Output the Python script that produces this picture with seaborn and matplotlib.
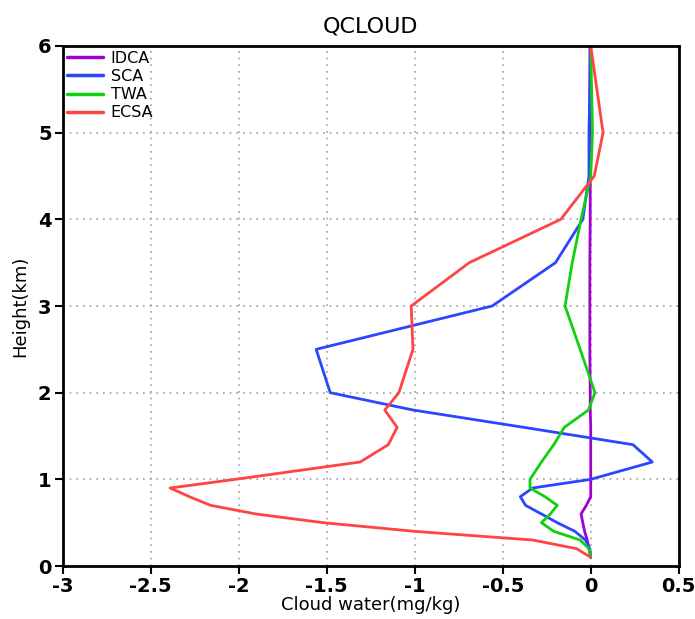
import numpy as np
import pandas as pd
import matplotlib
matplotlib.use("Agg")
import matplotlib.pyplot as plt
import seaborn as sns

# Model levels (km)
heights = [0.1, 0.2, 0.3, 0.4, 0.5, 0.6, 0.7, 0.8, 0.9, 1.0, 1.2, 1.4,
           1.6, 1.8, 2.0, 2.5, 3.0, 3.5, 4.0, 4.5, 5.0, 6.0]

# Cloud water difference profiles (mg/kg) for each region
idca = [0.0, -0.01, -0.02, -0.035, -0.045, -0.055, -0.025, 0.0, 0.0, 0.0,
        0.0, 0.0, 0.0, -0.003, -0.003, -0.005, -0.005, -0.005, -0.003,
        -0.003, -0.005, -0.005]
sca = [0.0, -0.005, -0.03, -0.09, -0.19, -0.28, -0.37, -0.40, -0.33, 0.0,
       0.35, 0.24, -0.38, -1.01, -1.48, -1.56, -0.56, -0.20, -0.045,
       -0.01, -0.01, 0.0]
twa = [0.0, -0.01, -0.06, -0.21, -0.28, -0.23, -0.19, -0.26, -0.345,
       -0.345, -0.28, -0.21, -0.15, -0.013, 0.024, -0.06, -0.146, -0.105,
       -0.055, 0.0, 0.01, 0.0]
ecsa = [0.0, -0.08, -0.33, -1.0, -1.52, -1.90, -2.16, -2.28, -2.39, -2.02,
        -1.31, -1.15, -1.10, -1.17, -1.09, -1.01, -1.02, -0.69, -0.17,
        0.02, 0.07, 0.0]

regions = ["IDCA", "SCA", "TWA", "ECSA"]
colors = ["#a000d0", "#2a46ff", "#10d010", "#ff4444"]

x_ticks = [-3, -2.5, -2, -1.5, -1, -0.5, 0, 0.5]
x_tick_labels = ["-3", "-2.5", "-2", "-1.5", "-1", "-0.5", "0", "0.5"]
y_ticks = [0, 1, 2, 3, 4, 5, 6]

frames = []
for name, vals in zip(regions, [idca, sca, twa, ecsa]):
    frames.append(pd.DataFrame({"qc": vals, "z": heights, "region": name}))
df = pd.concat(frames, ignore_index=True)

sns.set_style("white")
plt.rcParams["font.family"] = ["DejaVu Sans"]
plt.rcParams["text.color"] = "black"
plt.rcParams["axes.labelcolor"] = "black"
plt.rcParams["xtick.color"] = "black"
plt.rcParams["ytick.color"] = "black"

fig = plt.figure(figsize=(6.95, 6.19), dpi=100)
ax = fig.add_axes([0.0902, 0.0856, 0.8864, 0.8401])

sns.lineplot(data=df, x="qc", y="z", hue="region", hue_order=regions,
             palette=colors, orient="y", sort=False, estimator=None,
             linewidth=2.0, ax=ax)

ax.set_xlim(-3, 0.5)
ax.set_ylim(0, 6)
ax.set_xticks(x_ticks)
ax.set_xticklabels(x_tick_labels)
ax.set_yticks(y_ticks)
for lab in ax.get_xticklabels() + ax.get_yticklabels():
    lab.set_fontweight("bold")
    lab.set_fontsize(14)
    lab.set_color("black")

ax.tick_params(axis="both", direction="out", length=6, width=1.5,
               color="black", left=True, bottom=True, pad=2)

ax.grid(True, color="#a0a0a0", linestyle=(0, (1, 3)), linewidth=1.2)
ax.set_axisbelow(True)

for side in ["left", "right", "top", "bottom"]:
    sp = ax.spines[side]
    sp.set_visible(True)
    sp.set_color("black")
    sp.set_linewidth(2.0)
    sp.set_linestyle((0, (3, 1)))

ax.set_xlabel("Cloud water(mg/kg)", fontsize=13, labelpad=0, color="black")
ax.set_ylabel("Height(km)", fontsize=13, labelpad=6, color="black")
ax.set_title("QCLOUD", fontsize=16, pad=10, color="black")

leg = ax.legend(loc="upper left", frameon=False, fontsize=11.5,
                handlelength=2.2, handletextpad=0.5, labelspacing=0.2,
                borderaxespad=0.1, borderpad=0.2)
for t in leg.get_texts():
    t.set_color("black")
for h in leg.get_lines():
    h.set_linewidth(2.5)

fig.savefig("out.png", dpi=100)
